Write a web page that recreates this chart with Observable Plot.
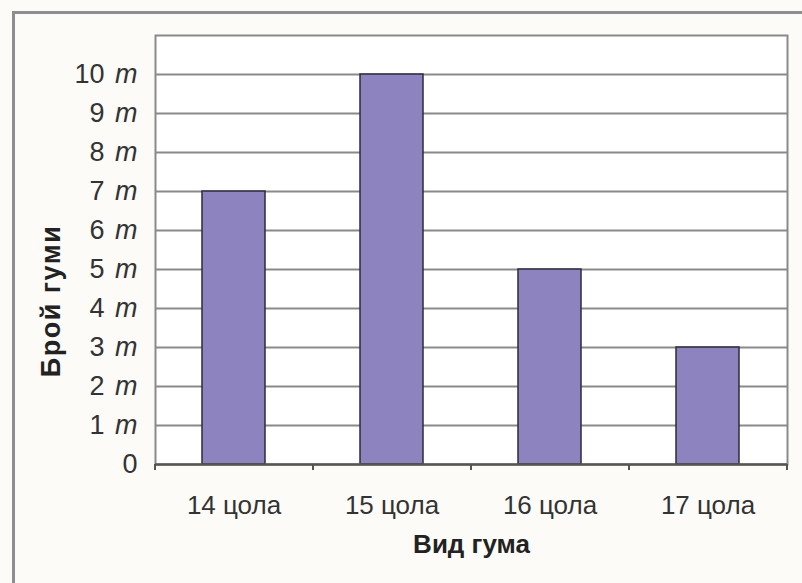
<!DOCTYPE html>
<html>
<head>
<meta charset="utf-8">
<script src="https://cdn.jsdelivr.net/npm/d3@7"></script>
<script src="https://cdn.jsdelivr.net/npm/@observablehq/plot@0.6"></script>
<style>
  html, body { margin: 0; padding: 0; background: #fcfbf8; }
  #wrap { position: relative; width: 802px; height: 583px; overflow: hidden; }
  #border { position: absolute; left: 12px; top: 11px; width: 800px; height: 590px;
            border-left: 3px solid #8e8e8e; border-top: 3px solid #8e8e8e; pointer-events: none; }
  svg { font-family: "Liberation Sans", Arial, sans-serif; }
</style>
</head>
<body>
<div id="wrap"><div id="border"></div></div>
<script>
const categories = ["14 цола", "15 цола", "16 цола", "17 цола"];
const counts = [7, 10, 5, 3];
const yTicks = [0, 1, 2, 3, 4, 5, 6, 7, 8, 9, 10];
const unit = "m";
const xTitle = "Вид гума";
const yTitle = "Брой гуми";

const data = categories.map((c, i) => ({cat: c, val: counts[i]}));
const step = 158;

const chart = Plot.plot({
  width: 802,
  height: 583,
  marginLeft: 155,
  marginRight: 15,
  marginTop: 35,
  marginBottom: 119,
  style: {background: "transparent", color: "#333", fontFamily: "Liberation Sans, Arial, sans-serif"},
  x: {domain: categories, paddingInner: 0.6, paddingOuter: 0.3},
  y: {domain: [0, 11]},
  marks: [
    Plot.frame({fill: "#ffffff", stroke: null}),
    Plot.ruleY(yTicks.slice(1), {stroke: "#8a8a8a", strokeWidth: 2}),
    Plot.frame({stroke: "#8a8a8a", strokeWidth: 2}),
    Plot.barY(data, {x: "cat", y: "val", fill: "#8d84bf", stroke: "#2e2b3c", strokeWidth: 1.5}),
    Plot.ruleY([0], {stroke: "#555", strokeWidth: 2.5}),
    Plot.ruleX(categories, {x: d => d, dx: -step / 2, insetTop: 429, insetBottom: -6, stroke: "#555", strokeWidth: 2}),
    Plot.ruleX(categories.slice(-1), {x: d => d, dx: step / 2, insetTop: 429, insetBottom: -6, stroke: "#555", strokeWidth: 2}),
    Plot.axisY({ticks: yTicks, tickFormat: d => d === 0 ? "0" : d + " " + unit, tickSize: 0, tickPadding: 18, fontSize: 27, label: null}),
    Plot.axisX({tickSize: 0, tickPadding: 31, fontSize: 26, label: null}),
    Plot.text([xTitle], {frameAnchor: "bottom", dy: 88, fontSize: 26, fontWeight: "bold", fill: "#222"}),
    Plot.text([yTitle], {frameAnchor: "left", textAnchor: "middle", dx: -104, dy: 51, rotate: -90, fontSize: 27, fontWeight: "bold", fill: "#222"})
  ]
});

// italicise the unit in y tick labels
d3.select(chart).selectAll('g[aria-label="y-axis tick label"] text').each(function() {
  const t = d3.select(this);
  const s = t.text();
  if (s.endsWith(" " + unit)) {
    t.text(s.slice(0, -unit.length));
    t.append("tspan").attr("font-style", "italic").attr("dx", 3).text(unit);
  }
});
d3.select(chart).selectAll('g[aria-label="text"] text').filter(function() { return d3.select(this).text() === yTitle; })
  .style("letter-spacing", "1.5px");

document.getElementById("wrap").prepend(chart);
</script>
</body>
</html>
